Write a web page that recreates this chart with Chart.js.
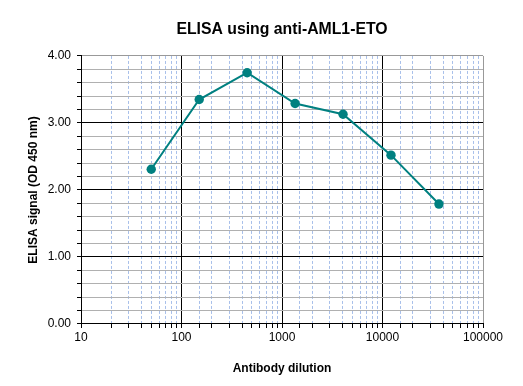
<!DOCTYPE html>
<html>
<head>
<meta charset="utf-8">
<script src="https://cdn.jsdelivr.net/npm/chart.js@4.4.1/dist/chart.umd.min.js"></script>
<style>
  html, body { margin: 0; padding: 0; background: #fff; }
  #wrap { width: 523px; height: 386px; }
</style>
</head>
<body>
<div id="wrap"><canvas id="chart" width="523" height="386"></canvas></div>
<script>
// Chart data
const dilutions = [50, 150, 450, 1350, 4050, 12150, 36450];
const signal = [2.31, 3.35, 3.75, 3.29, 3.13, 2.52, 1.79];

const chartTitle = 'ELISA using anti-AML1-ETO';
const xTitle = 'Antibody dilution';
const yTitle = 'ELISA signal (OD 450 nm)';

const FONT = '"Liberation Sans", Arial, sans-serif';

const isDecade = (v) => Math.abs(Math.log10(v) - Math.round(Math.log10(v))) < 1e-9;
const isWhole = (v) => Math.abs(v - Math.round(v)) < 1e-6;

const points = dilutions.map((d, i) => ({ x: d, y: signal[i] }));

// Center the chart title over the plot area instead of the whole canvas
const titleOverPlot = {
  id: 'titleOverPlot',
  afterLayout(chart) {
    const tb = chart.titleBlock;
    if (!tb) return;
    tb.left = chart.chartArea.left;
    tb.right = chart.chartArea.right;
    tb.width = tb.right - tb.left;
  }
};

new Chart(document.getElementById('chart'), {
  type: 'line',
  data: {
    datasets: [{
      data: points,
      borderColor: '#008080',
      backgroundColor: '#008080',
      borderWidth: 2,
      pointRadius: 4.7,
      pointBorderWidth: 0,
      pointBackgroundColor: '#008080',
      tension: 0
    }]
  },
  plugins: [titleOverPlot],
  options: {
    responsive: false,
    animation: false,
    layout: { padding: { left: 0, right: 40, top: 0, bottom: 0 } },
    plugins: {
      legend: { display: false },
      tooltip: { enabled: false },
      title: {
        display: true,
        text: chartTitle,
        color: '#000',
        font: { family: FONT, size: 15.8, weight: 'bold' },
        padding: { top: 20, bottom: 17 }
      }
    },
    scales: {
      x: {
        type: 'logarithmic',
        position: 'bottom',
        min: 10,
        max: 100000,
        afterFit: (s) => { s.height = 62; },
        ticks: {
          autoSkip: false,
          maxRotation: 0,
          color: '#000',
          padding: 2,
          font: { family: FONT, size: 12 },
          callback: (v) => isDecade(v) ? String(Math.round(v)) : ''
        },
        grid: {
          color: (ctx) => (ctx.tick && isDecade(ctx.tick.value)) ? 'rgba(0,0,0,0)' : '#a9c0ea',
          tickColor: '#000',
          tickLength: 4,
          tickBorderDash: [],
          lineWidth: 1
        },
        border: { display: true, color: '#000', width: 1, dash: [3, 2] },
        title: {
          display: true,
          text: xTitle,
          color: '#000',
          font: { family: FONT, size: 12, weight: 'bold' },
          padding: { top: 4, bottom: 10 }
        }
      },
      x2: {
        type: 'logarithmic',
        position: 'bottom',
        min: 10,
        max: 100000,
        afterBuildTicks: (s) => { s.ticks = s.ticks.filter(t => isDecade(t.value)); },
        afterFit: (s) => { s.height = 0; },
        ticks: { display: false },
        grid: {
          drawTicks: false,
          color: (ctx) => (ctx.tick && ctx.tick.value >= 100000) ? '#999' : (ctx.tick && ctx.tick.value <= 10 ? 'rgba(0,0,0,0)' : '#000'),
          lineWidth: 1
        },
        border: { display: false }
      },
      y: {
        type: 'linear',
        min: 0,
        max: 4,
        afterFit: (s) => { s.width = 81; },
        ticks: {
          stepSize: 0.2,
          autoSkip: false,
          color: '#000',
          padding: 6,
          font: { family: FONT, size: 12 },
          callback: (v) => isWhole(v) ? Number(v).toFixed(2) : ''
        },
        grid: {
          color: (ctx) => {
            const v = ctx.tick ? ctx.tick.value : 0;
            if (v >= 4 - 1e-6) return '#999';
            return isWhole(v) ? '#000' : '#b0b0b0';
          },
          tickColor: '#000',
          tickLength: 4,
          lineWidth: 1
        },
        border: { display: true, color: '#000', width: 1 },
        title: {
          display: true,
          text: yTitle,
          color: '#000',
          font: { family: FONT, size: 12, weight: 'bold' },
          padding: { top: 26, bottom: 0 }
        }
      }
    }
  }
});
</script>
</body>
</html>
